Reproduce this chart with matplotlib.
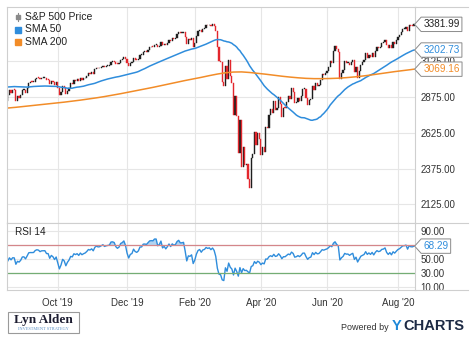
import numpy as np
import pandas as pd
import matplotlib
matplotlib.use("Agg")
import matplotlib.pyplot as plt
from matplotlib.path import Path
from matplotlib.lines import Line2D
from matplotlib.patches import Rectangle

plt.rcParams['font.family'] = ['Liberation Sans', 'DejaVu Sans']

# ---------- Data ----------
first_day = '2019-06-03'
last_day = '2020-08-17'
chart_start = '2019-08-16'
holidays = ['2019-07-04', '2019-09-02', '2019-11-28', '2019-12-25', '2020-01-01',
            '2020-01-20', '2020-02-17', '2020-04-10', '2020-05-25', '2020-07-03']

# S&P 500 daily closes
closes = [
    # Jun 2019
    2744.45, 2803.27, 2826.15, 2843.49, 2873.34, 2886.73, 2885.72, 2879.84, 2891.64, 2886.98,
    2889.67, 2917.75, 2926.46, 2954.18, 2950.46, 2945.35, 2917.38, 2913.78, 2924.92, 2941.76,
    # Jul 2019
    2964.33, 2973.01, 2995.82, 2990.41, 2975.95, 2979.63, 2993.07, 2999.91, 3013.77, 3014.30,
    3004.04, 2984.42, 2995.11, 2976.61, 2985.03, 3005.47, 3019.56, 3003.67, 3025.86, 3020.97,
    3013.18, 2980.38,
    # Aug 2019
    2953.56, 2932.05, 2844.74, 2881.77, 2883.98, 2938.09, 2918.65, 2882.70, 2926.32, 2840.60,
    2847.60, 2888.68, 2923.65, 2900.51, 2924.43, 2922.95, 2847.11, 2878.38, 2869.16, 2887.94,
    2924.58, 2926.46,
    # Sep 2019
    2906.27, 2937.78, 2976.00, 2978.71, 2978.43, 2979.39, 3000.93, 3009.57, 3007.39, 2997.96,
    3005.70, 3006.73, 3006.79, 2992.07, 2991.78, 2966.60, 2984.87, 2977.62, 2961.79, 2976.74,
    # Oct 2019
    2940.25, 2887.61, 2910.63, 2952.01, 2938.79, 2893.06, 2919.40, 2938.13, 2970.27, 2966.15,
    2995.68, 2989.69, 2997.95, 2986.20, 3006.72, 2995.99, 3004.52, 3010.29, 3022.55, 3039.42,
    3036.89, 3046.77, 3037.56,
    # Nov 2019
    3066.91, 3078.27, 3074.62, 3076.78, 3085.18, 3093.08, 3087.01, 3091.84, 3094.04, 3096.63,
    3120.46, 3122.03, 3120.18, 3108.46, 3103.54, 3110.29, 3133.64, 3140.52, 3153.63, 3140.98,
    # Dec 2019
    3113.87, 3093.20, 3112.76, 3117.43, 3145.91, 3135.96, 3132.52, 3141.63, 3168.57, 3168.80,
    3191.45, 3192.52, 3191.14, 3205.37, 3221.22, 3224.01, 3223.38, 3239.91, 3240.02, 3221.29,
    3230.78,
    # Jan 2020
    3257.85, 3234.85, 3246.28, 3237.18, 3253.05, 3274.70, 3265.35, 3288.13, 3283.15, 3289.29,
    3316.81, 3329.62, 3320.79, 3321.75, 3325.54, 3295.47, 3243.63, 3276.24, 3273.40, 3283.66,
    3225.52,
    # Feb 2020
    3248.92, 3297.59, 3334.69, 3345.78, 3327.71, 3352.09, 3357.75, 3379.45, 3373.94, 3380.16,
    3370.29, 3386.15, 3373.23, 3337.75, 3225.89, 3128.21, 3116.39, 2978.76, 2954.22,
    # Mar 2020
    3090.23, 3003.37, 3130.12, 3023.94, 2972.37, 2746.56, 2882.23, 2741.38, 2480.64, 2711.02,
    2386.13, 2529.19, 2398.10, 2409.39, 2304.92, 2237.40, 2447.33, 2475.56, 2630.07, 2541.47,
    2626.65, 2584.59,
    # Apr 2020
    2470.50, 2526.90, 2488.65, 2663.68, 2659.41, 2749.98, 2789.82, 2761.63, 2846.06, 2783.36,
    2799.55, 2874.56, 2823.16, 2736.56, 2799.31, 2797.80, 2836.74, 2878.48, 2863.39, 2939.51,
    2912.43,
    # May 2020
    2830.71, 2842.74, 2868.44, 2848.42, 2881.19, 2929.80, 2930.32, 2870.12, 2820.00, 2852.50,
    2863.70, 2953.91, 2922.94, 2971.61, 2948.51, 2955.45, 2991.77, 3036.13, 3029.73, 3044.31,
    # Jun 2020
    3055.73, 3080.82, 3122.87, 3112.35, 3193.93, 3232.39, 3207.18, 3190.14, 3002.10, 3041.31,
    3066.59, 3124.74, 3113.49, 3115.34, 3097.74, 3117.86, 3131.29, 3050.33, 3083.76, 3009.05,
    3053.24, 3100.29,
    # Jul 2020
    3115.86, 3130.01, 3179.72, 3145.32, 3169.94, 3152.05, 3185.04, 3155.22, 3197.52, 3226.56,
    3215.57, 3224.73, 3251.84, 3257.30, 3276.02, 3235.66, 3215.63, 3239.41, 3218.44, 3258.44,
    3246.22, 3271.12,
    # Aug 2020
    3294.61, 3306.51, 3327.77, 3349.16, 3351.28, 3360.47, 3333.69, 3380.35, 3373.43, 3372.85,
    3381.99,
]

# 200-day average, one reading every 5 sessions from chart_start, plus the last session
sma200_weekly = [
    2798, 2803, 2809, 2815, 2821, 2827, 2833, 2839, 2846, 2853,
    2861, 2869, 2878, 2888, 2898, 2909, 2920, 2931, 2942, 2954,
    2966, 2978, 2990, 3001, 3012, 3024, 3035, 3044, 3049, 3050,
    3046, 3040, 3034, 3027, 3020, 3014, 3009, 3005, 3003, 3003,
    3004, 3006, 3010, 3015, 3021, 3028, 3036, 3044, 3052, 3059,
    3066, 3069.16,
]

tick_months = ['2019-10', '2019-12', '2020-02', '2020-04', '2020-06', '2020-08']
tick_labels = ["Oct '19", "Dec '19", "Feb '20", "Apr '20", "Jun '20", "Aug '20"]
price_levels = [2125, 2375, 2625, 2875, 3125]
rsi_levels = [10, 30, 50, 70, 90]

# ---------- Series ----------
dates = pd.bdate_range(first_day, last_day)
dates = dates[~dates.isin(pd.to_datetime(holidays))]
close = pd.Series(closes, index=dates)

sma50 = close.rolling(50).mean()

delta = close.diff()
gain = delta.clip(lower=0).ewm(alpha=1 / 14, adjust=False).mean()
loss = (-delta.clip(upper=0)).ewm(alpha=1 / 14, adjust=False).mean()
rsi = 100 - 100 / (1 + gain / loss)

view = close[chart_start:]
opens = close.shift(1)[chart_start:].values
cl = view.values
n = len(view)
x = np.arange(n)
sma50_v = sma50[chart_start:].values
rsi_v = rsi[chart_start:].values
sma200_x = np.r_[np.arange(0, n, 5), n - 1]
sma200_y = np.array(sma200_weekly)

tick_x = [int(np.argmax(view.index.strftime('%Y-%m') == m)) for m in tick_months]

# ---------- Figure ----------
W, H = 474, 338
fig = plt.figure(figsize=(W / 100, H / 100), dpi=100)
L, R = 7, 415
ax1 = fig.add_axes([L / W, (H - 222.5) / H, (R - L) / W, (222.5 - 7) / H])
ax2 = fig.add_axes([L / W, (H - 290) / H, (R - L) / W, (290 - 222.5) / H], sharex=ax1)

frame = '#cfcfcf'
grid = '#e6e6e6'
blue = '#2f8ddc'
orange = '#f28c28'
red = '#e3262c'
dark = '#1e1e1e'
txt = '#333333'

for ax in (ax1, ax2):
    for sp in ax.spines.values():
        sp.set_color(frame)
        sp.set_linewidth(0.8)
    ax.yaxis.tick_right()
    ax.tick_params(length=0, labelsize=7, labelcolor=txt, pad=4)
    ax.set_xticks(tick_x)
    ax.grid(True, color=grid, linewidth=0.8)
    ax.set_axisbelow(True)

# candles: body from previous close to close
body_lo = np.minimum(opens, cl)
body_h = np.maximum(np.abs(cl - opens), 6)
up = cl >= opens
ax1.bar(x[up], body_h[up], bottom=body_lo[up], width=0.75, color=dark,
        edgecolor=dark, linewidth=0.3)
ax1.bar(x[~up], body_h[~up], bottom=body_lo[~up], width=0.75, color=red,
        edgecolor=red, linewidth=0.3)

ax1.plot(x, sma50_v, color=blue, lw=1.1)
ax1.plot(sma200_x, sma200_y, color=orange, lw=1.1)

ax1.set_ylim(1999, 3503)
ax1.set_yticks(price_levels)
ax1.set_yticklabels([f'{v:.2f}' for v in price_levels])
ax1.set_xlim(-0.5, n - 0.4)
plt.setp(ax1.get_xticklabels(), visible=False)

# RSI panel; the 70 label sits under the value tag
ax2.plot(x, rsi_v, color=blue, lw=1.0)
ax2.fill_between(x, rsi_v, 70, where=rsi_v > 70, interpolate=True,
                 color='#9cc8ee', alpha=0.8, lw=0)
ax2.axhline(70, color='#d4868a', lw=0.9)
ax2.axhline(30, color='#74ad74', lw=0.9)
ax2.set_ylim(5.7, 102)
ax2.set_yticks(rsi_levels)
ax2.set_yticklabels(['' if v == 70 else f'{v:.2f}' for v in rsi_levels])
ax2.set_xticklabels(tick_labels)
ax2.tick_params(axis='x', pad=6)


# tag-shaped value box pointing at the right edge
def tag_box(x0, y0, width, height, mutation_size):
    pad = mutation_size * 0.22
    x0, y0 = x0 - pad, y0 - pad
    x1, y1 = x0 + width + 2 * pad, y0 + height + 2 * pad
    tip = (y1 - y0) * 0.45
    ym = (y0 + y1) / 2
    return Path([(x0, y0), (x1, y0), (x1, y1), (x0, y1), (x0 - tip, ym), (x0, y0)],
                closed=True)


def value_tag(ax, value, color):
    ax.annotate(f'{value:.2f}', xy=(1.0, value),
                xycoords=('axes fraction', 'data'),
                xytext=(6, 0), textcoords='offset points',
                ha='left', va='center', fontsize=7.2, color=color,
                annotation_clip=False, zorder=10,
                bbox=dict(boxstyle=tag_box, fc='white', ec='#8a8a8a', lw=0.7))


value_tag(ax1, cl[-1], '#222222')
value_tag(ax1, sma50_v[-1], blue)
value_tag(ax1, sma200_y[-1], orange)
value_tag(ax2, rsi_v[-1], blue)

# legend
fig.add_artist(Line2D([17.5 / W] * 2, [1 - 13 / H, 1 - 21 / H], color='#8a8a8a', lw=0.8))
fig.add_artist(Rectangle((15.5 / W, 1 - 19 / H), 4 / W, 4 / H, color='#8a8a8a'))
fig.add_artist(Rectangle((15 / W, 1 - 32.5 / H), 6 / W, 6 / H, color=blue))
fig.add_artist(Rectangle((15 / W, 1 - 45 / H), 6 / W, 6 / H, color=orange))
for ty, label in [(17, 'S&P 500 Price'), (29.5, 'SMA 50'), (42, 'SMA 200')]:
    fig.text(25 / W, 1 - ty / H, label, fontsize=7.5, color='#222222', va='center')
fig.text(15 / W, 1 - 232 / H, 'RSI 14', fontsize=7.2, color='#222222', va='center')

# outer frame continues past the value axis
for fy in (7, 222.5, 290):
    fig.add_artist(Line2D([R / W, 468 / W], [1 - fy / H] * 2, color=frame, lw=0.8))

# footer
fig.add_artist(Rectangle((7.5 / W, 1 - 332.5 / H), 71 / W, 21 / H, fc='white',
                         ec='#9a9a9a', lw=0.8))
fig.text(43 / W, 1 - 319.5 / H, 'Lyn Alden', fontsize=9.5, fontweight='bold',
         family='Liberation Serif', color='#1c1c30', ha='center', va='center')
fig.text(43 / W, 1 - 328.5 / H, 'INVESTMENT STRATEGY', fontsize=3.2,
         family='Liberation Serif', color='#5b8fc4', ha='center', va='center')
fig.text(389 / W, 1 - 327.5 / H, 'Powered by', fontsize=6.5, color='#333333',
         ha='right', va='center')
fig.text(392 / W, 1 - 326 / H, 'Y', fontsize=10.5, fontweight='bold', color='#1e88d8',
         va='center')
fig.text(403 / W, 1 - 326 / H, 'CHARTS', fontsize=10.5, fontweight='bold', color='#1d2a44',
         va='center')

fig.savefig('out.png', dpi=100)
